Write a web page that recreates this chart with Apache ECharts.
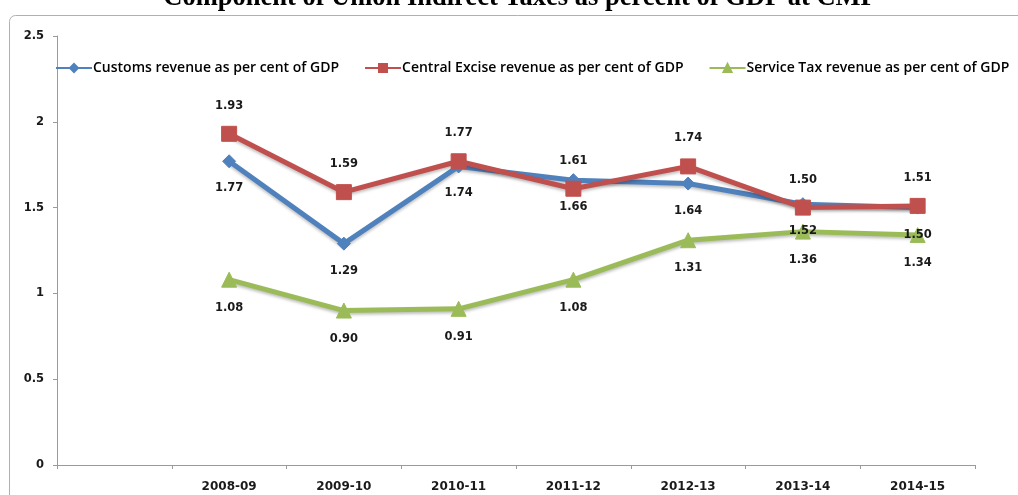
<!DOCTYPE html>
<html>
<head>
<meta charset="utf-8">
<script src="https://cdn.jsdelivr.net/npm/echarts@6/dist/echarts.min.js"></script>
<style>
  html, body { margin: 0; padding: 0; background: #fff; }
  #chart { width: 1018px; height: 495px; }
</style>
</head>
<body>
<div id="chart"></div>
<script>
// Fiscal years (the leading blank slot keeps the first year off the axis)
const years = ['', '2008-09', '2009-10', '2010-11', '2011-12', '2012-13', '2013-14', '2014-15'];
const customs = [null, 1.77, 1.29, 1.74, 1.66, 1.64, 1.52, 1.50];
const excise = [null, 1.93, 1.59, 1.77, 1.61, 1.74, 1.50, 1.51];
const serviceTax = [null, 1.08, 0.90, 0.91, 1.08, 1.31, 1.36, 1.34];
const yTicks = { min: 0, max: 2.5, interval: 0.5 };

const labelFont = { fontFamily: 'DejaVu Sans', fontWeight: 'bold', fontSize: 11.5, color: '#1a1a1a' };

function lineSeries(name, data, color, symbol, size, labelPos) {
  return {
    name, type: 'line', data,
    symbol, symbolSize: size,
    lineStyle: { width: 5, color, shadowColor: 'rgba(0,0,0,0.25)', shadowBlur: 3, shadowOffsetY: 2 },
    itemStyle: { color, borderColor: color, borderWidth: 1 },
    label: {
      show: true, position: labelPos, distance: 14,
      formatter: p => p.value == null ? '' : Number(p.value).toFixed(2),
      ...labelFont
    },
    emphasis: { disabled: true },
    animation: false
  };
}

const chart = echarts.init(document.getElementById('chart'));
chart.setOption({
  backgroundColor: '#fff',
  title: {
    text: 'Component of Union Indirect Taxes as percent of GDP at CMP',
    left: 520, textAlign: 'center', top: -15, padding: 0,
    textStyle: { fontFamily: 'Liberation Serif', fontWeight: 'bold', fontSize: 26.5, color: '#000' }
  },
  graphic: [{
    type: 'rect', z: -1,
    shape: { x: 9.5, y: 15.5, width: 1040, height: 520, r: 6 },
    style: { fill: 'none', stroke: '#b0b0b0', lineWidth: 1 }
  }],
  legend: {
    left: 50, top: 56, itemWidth: 36, itemHeight: 10, itemGap: 25,
    textStyle: { fontFamily: 'Open Sans', fontWeight: 600, fontSize: 14, color: '#000', padding: [0, 0, 0, -4] },
    data: ['Customs revenue as per cent of GDP', 'Central Excise revenue as per cent of GDP', 'Service Tax revenue as per cent of GDP']
  },
  grid: { left: 57, right: 43, top: 36, bottom: 30, containLabel: false },
  xAxis: {
    type: 'category', data: years, boundaryGap: true,
    axisLine: { lineStyle: { color: '#9a9a9a', width: 1 } },
    axisTick: { show: true, alignWithLabel: false, length: 4, lineStyle: { color: '#9a9a9a' } },
    axisLabel: { margin: 16, ...labelFont, fontSize: 12 },
    splitLine: { show: false }
  },
  yAxis: {
    type: 'value', min: yTicks.min, max: yTicks.max, interval: yTicks.interval,
    axisLine: { show: true, lineStyle: { color: '#9a9a9a', width: 1 } },
    axisTick: { show: true, length: 4, lineStyle: { color: '#9a9a9a' } },
    axisLabel: { margin: 13, ...labelFont, fontSize: 11.5, formatter: v => String(v) },
    splitLine: { show: false }
  },
  series: [
    lineSeries('Customs revenue as per cent of GDP', customs, '#4F81BD', 'diamond', 13, 'bottom'),
    lineSeries('Central Excise revenue as per cent of GDP', excise, '#C0504D', 'rect', 15, 'top'),
    lineSeries('Service Tax revenue as per cent of GDP', serviceTax, '#9BBB59', 'triangle', 15, 'bottom')
  ]
});
</script>
</body>
</html>
